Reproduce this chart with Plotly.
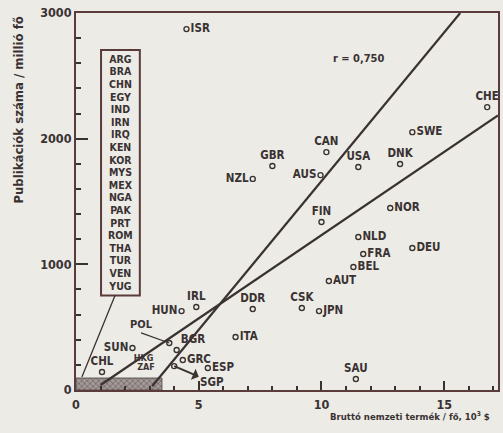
import plotly.graph_objects as go

# ---- data ----
countries = ["ISR", "NZL", "GBR", "CAN", "AUS", "USA", "DNK", "SWE", "CHE", "FIN",
             "NOR", "NLD", "DEU", "FRA", "BEL", "AUT", "CSK", "JPN", "DDR", "IRL",
             "HUN", "ITA", "SAU", "SUN", "CHL", "BGR", "GRC", "ESP"]
gnp = [4.5, 7.2, 8.0, 10.2, 9.96, 11.5, 13.2, 13.7, 16.75, 10.0,
       12.8, 11.5, 13.7, 11.7, 11.3, 10.3, 9.2, 9.9, 7.2, 4.9,
       4.3, 6.5, 11.4, 2.3, 1.06, 4.1, 4.35, 5.37]
pubs = [2872, 1680, 1782, 1893, 1710, 1774, 1798, 2052, 2251, 1337,
        1448, 1217, 1130, 1082, 979, 867, 652, 628, 644, 660,
        628, 422, 88, 334, 143, 318, 239, 175]
label_pos = ["middle right", "middle left", "top center", "top center", "middle left",
             "top center", "top center", "middle right", "top center", "top center",
             "middle right", "middle right", "middle right", "middle right", "middle right",
             "middle right", "top center", "middle right", "top center", "top center",
             "middle left", "middle right", "top center", "middle left", "top center",
             "top right", "middle right", "middle right"]

# points with leader lines
lead_names = ["POL", "SGP"]
lead_gnp = [3.8, 4.0]
lead_pubs = [374, 190]

# small labels in the crowded corner
corner_names = ["HKG", "ZAF"]
corner_gnp = [2.75, 2.85]
corner_pubs = [245, 175]

# countries grouped in the box (all inside the shaded corner)
boxed = ["ARG", "BRA", "CHN", "EGY", "IND", "IRN", "IRQ", "KEN", "KOR", "MYS",
         "MEX", "NGA", "PAK", "PRT", "ROM", "THA", "TUR", "VEN", "YUG"]

# regression lines (end points)
line1_x = [3.1, 15.65]
line1_y = [30, 3000]
line2_x = [1.0, 17.19]
line2_y = [40, 2185]

r_text = "r = 0,750"

# shaded region of low-value countries
shade_x = [0, 3.5, 3.5, 0, 0]
shade_y = [0, 0, 95, 95, 0]

ink = "#3a3232"
frame = "#5a3b3b"
bg = "#ecebe6"
font_fam = "DejaVu Sans Condensed, Liberation Sans Narrow, DejaVu Sans, sans-serif"

fig = go.Figure()

# shaded corner
fig.add_trace(go.Scatter(
    x=shade_x, y=shade_y, mode="lines", fill="toself",
    line=dict(color="#5e5252", width=1),
    fillcolor="#8a8080",
    fillpattern=dict(shape="x", fgcolor="#4a3e3e", bgcolor="#a39a98", size=4, solidity=0.4),
    hoverinfo="skip", showlegend=False))

# regression lines
fig.add_trace(go.Scatter(x=line1_x, y=line1_y, mode="lines",
                         line=dict(color=ink, width=2.2), showlegend=False))
fig.add_trace(go.Scatter(x=line2_x, y=line2_y, mode="lines",
                         line=dict(color=ink, width=2.2), showlegend=False))

# labelled countries
fig.add_trace(go.Scatter(
    x=gnp, y=pubs, mode="markers+text", text=countries, textposition=label_pos,
    textfont=dict(family=font_fam, size=11.5, color=ink, weight="bold"),
    marker=dict(symbol="circle-open", size=5, color=ink, line=dict(width=1.4)),
    cliponaxis=False, showlegend=False))

# leader-line countries (markers)
fig.add_trace(go.Scatter(
    x=lead_gnp, y=lead_pubs, mode="markers",
    marker=dict(symbol="circle-open", size=5, color=ink, line=dict(width=1.4)),
    showlegend=False))

# corner labels
fig.add_trace(go.Scatter(
    x=corner_gnp, y=corner_pubs, mode="text", text=corner_names,
    textfont=dict(family=font_fam, size=9, color=ink, weight="bold"),
    showlegend=False))

# box with the grouped countries
box_x0, box_x1 = 1.02, 2.6
box_top, box_bot = 2705, 752
fig.add_shape(type="rect", x0=box_x0, x1=box_x1, y0=box_bot, y1=box_top,
              line=dict(color=frame, width=2), fillcolor="rgba(0,0,0,0)")
fig.add_trace(go.Scatter(
    x=[(box_x0 + box_x1) / 2] * len(boxed),
    y=[2625 - 100.3 * i for i in range(len(boxed))],
    mode="text", text=boxed,
    textfont=dict(family=font_fam, size=10.5, color=ink, weight="bold"),
    showlegend=False))
fig.add_shape(type="line", x0=1.59, y0=box_bot, x1=0.24, y1=103,
              line=dict(color=ink, width=1.3))

# leader annotations
fig.add_annotation(x=lead_gnp[0], y=lead_pubs[0], ax=2.65, ay=455, axref="x", ayref="y",
                   text=lead_names[0], showarrow=True, arrowhead=0, arrowwidth=1.2,
                   arrowcolor=ink, xanchor="center", yanchor="bottom",
                   font=dict(family=font_fam, size=11, color=ink, weight="bold"))
fig.add_annotation(x=lead_gnp[1], y=lead_pubs[1], ax=5.55, ay=60, axref="x", ayref="y",
                   text=lead_names[1], showarrow=True, arrowhead=2, arrowside="start",
                   arrowwidth=2, arrowcolor=ink, xanchor="center",
                   font=dict(family=font_fam, size=11.5, color=ink, weight="bold"))

fig.add_annotation(x=11.5, y=2641, text=r_text, showarrow=False,
                   font=dict(family=font_fam, size=11, color=ink, weight="bold"))

# axis titles
fig.add_annotation(xref="paper", yref="paper", x=-0.137, y=0.995, textangle=-90,
                   xanchor="center", yanchor="top",
                   text="Publikációk száma / millió fő", showarrow=False,
                   font=dict(family=font_fam, size=13, color=ink, weight="bold"))
fig.add_annotation(xref="paper", yref="paper", x=0.985, y=-0.048, xanchor="right",
                   yanchor="top",
                   text="Bruttó nemzeti termék / fő, 10<sup>3</sup> $", showarrow=False,
                   font=dict(family=font_fam, size=9.5, color=ink, weight="bold"))

fig.update_layout(
    width=503, height=433,
    margin=dict(l=76, r=3, t=13, b=43),
    paper_bgcolor=bg, plot_bgcolor=bg,
    showlegend=False,
    font=dict(family=font_fam, color=ink),
)
fig.update_xaxes(range=[0, 17.19], tickvals=[0, 5, 10, 15], ticks="inside", ticklen=9,
                 tickwidth=1.5, tickcolor=ink, showgrid=False, zeroline=False,
                 showline=True, linecolor=frame, linewidth=2, mirror=True,
                 minor=dict(dtick=1, ticks="inside", ticklen=4, tickcolor=ink),
                 ticklabelstandoff=2,
                 tickfont=dict(size=12.5, color=ink, weight="bold"))
fig.update_yaxes(range=[0, 3000], tickvals=[0, 1000, 2000, 3000], ticks="inside", ticklen=12,
                 tickwidth=1.5, tickcolor=ink, showgrid=False, zeroline=False,
                 showline=True, linecolor=frame, linewidth=2, mirror=True,
                 minor=dict(dtick=200, ticks="inside", ticklen=5, tickcolor=ink),
                 tickfont=dict(size=12.5, color=ink, weight="bold"))

fig.write_html("out.html")
